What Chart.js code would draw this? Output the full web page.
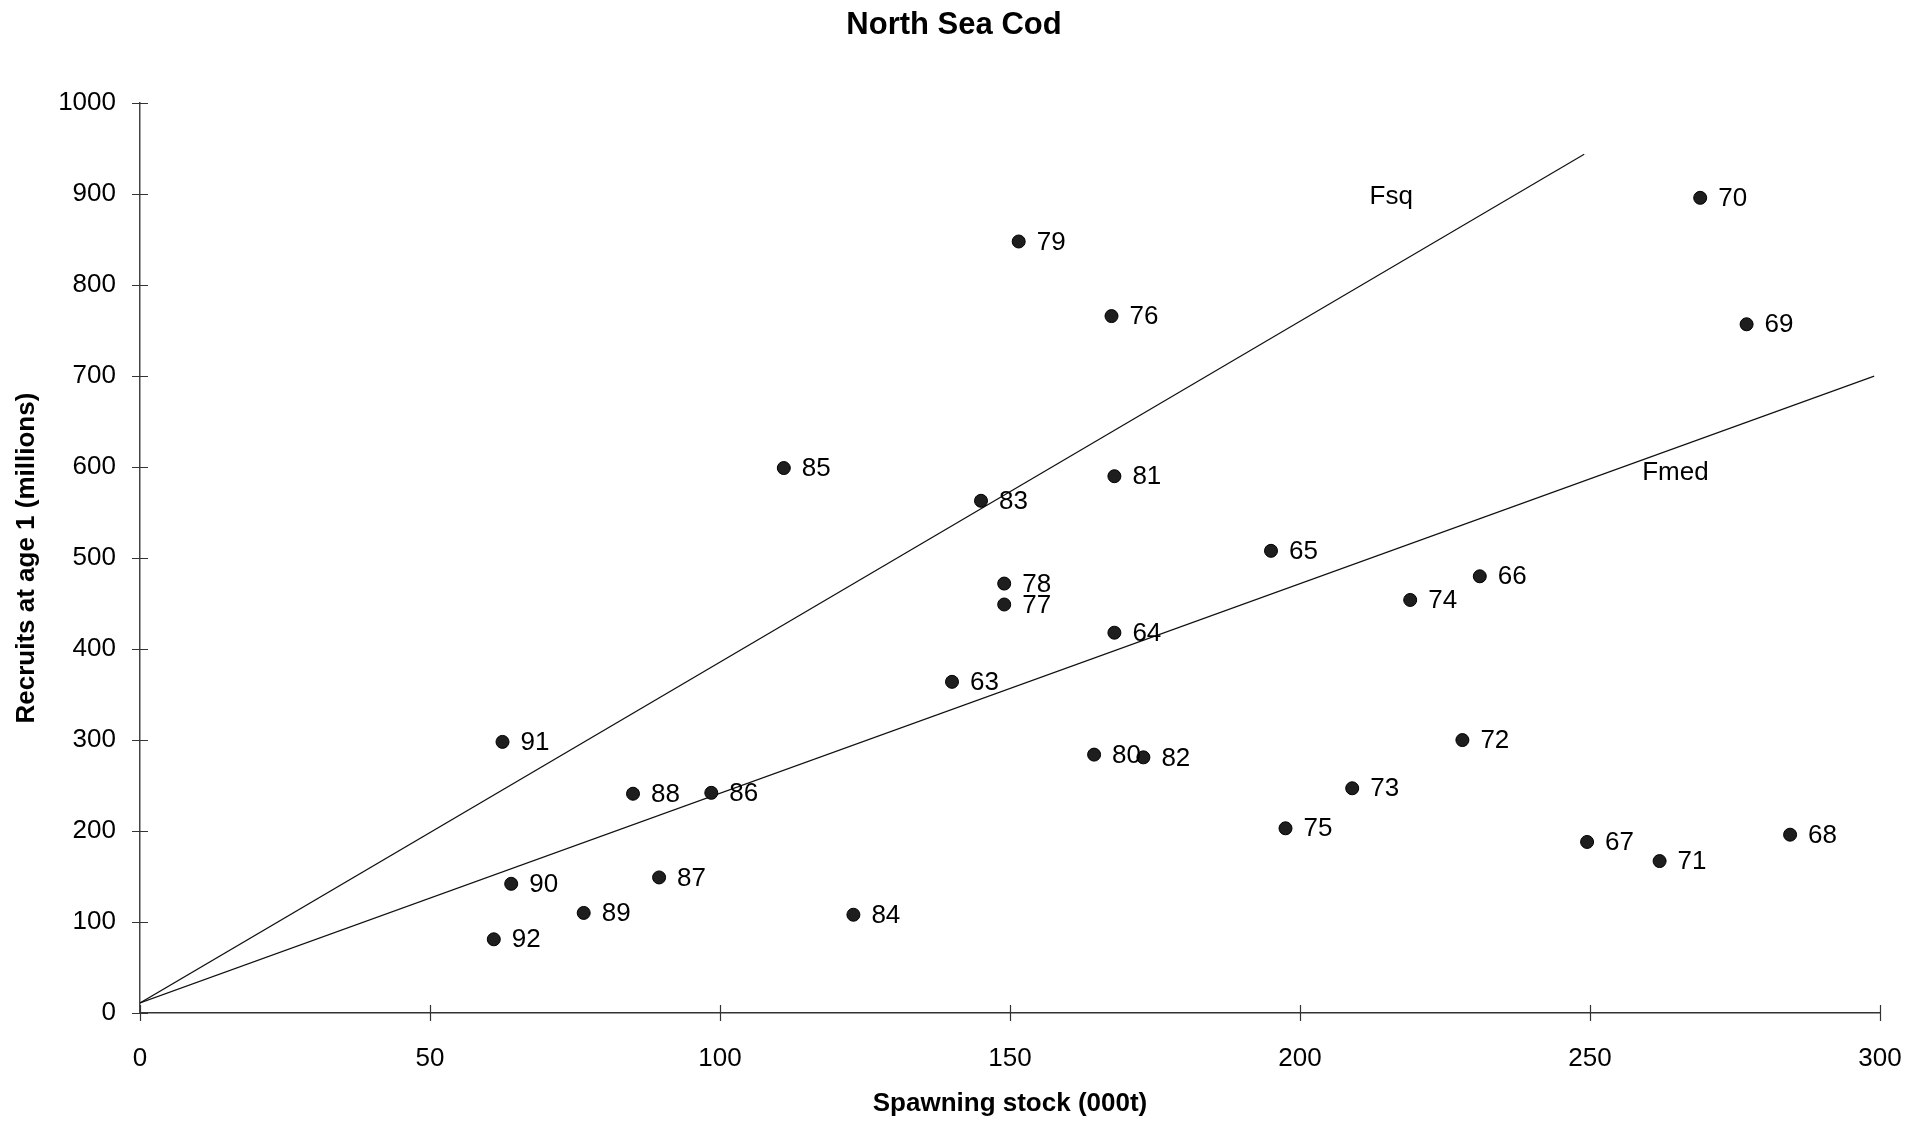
<!DOCTYPE html>
<html>
<head>
<meta charset="utf-8">
<title>North Sea Cod</title>
<script src="https://cdn.jsdelivr.net/npm/chart.js@4/dist/chart.umd.min.js"></script>
<style>
  html, body { margin: 0; padding: 0; background: #fff; }
  #wrap { width: 1918px; height: 1124px; }
</style>
</head>
<body>
<div id="wrap"><canvas id="codChart" width="1918" height="1124"></canvas></div>
<script>
// year class labels, spawning stock (000t) and recruits (millions)
const years = ['63', '64', '65', '66', '67', '68', '69', '70', '71', '72', '73', '74', '75', '76', '77',
               '78', '79', '80', '81', '82', '83', '84', '85', '86', '87', '88', '89', '90', '91', '92'];
const ssb = [140, 168, 195, 231, 249.5, 284.5, 277, 269, 262, 228, 209, 219, 197.5, 167.5, 149,
             149, 151.5, 164.5, 168, 173, 145, 123, 111, 98.5, 89.5, 85, 76.5, 64, 62.5, 61];
const recruits = [364, 418, 508, 480, 188, 196, 757, 896, 167, 300, 247, 454, 203, 766, 449,
                  472, 848, 284, 590, 281, 563, 108, 599, 242, 149, 241, 110, 142, 298, 81];

// replacement lines (start and end points)
const fsqX = [0, 249];
const fsqY = [11, 944];
const fmedX = [0, 299];
const fmedY = [11, 700];

// line label positions (data units)
const lineLabels = [
    { text: 'Fsq', x: 212, y: 897 },
    { text: 'Fmed', x: 259, y: 594 }
];

const xTicks = [0, 50, 100, 150, 200, 250, 300];
const yTicks = [0, 100, 200, 300, 400, 500, 600, 700, 800, 900, 1000];

const FONT = "'Liberation Sans', Arial, sans-serif";

// ticks crossing the axis lines
const crossTicks = {
    id: 'crossTicks',
    afterDraw(chart) {
        const ctx = chart.ctx;
        const xs = chart.scales.x, ys = chart.scales.y;
        const area = chart.chartArea;
        ctx.save();
        ctx.strokeStyle = '#333';
        ctx.lineWidth = 1.2;
        ctx.beginPath();
        xTicks.forEach(v => {
            const px = Math.round(xs.getPixelForValue(v)) + 0.5;
            ctx.moveTo(px, area.bottom - 8);
            ctx.lineTo(px, area.bottom + 8);
        });
        yTicks.forEach(v => {
            const py = Math.round(ys.getPixelForValue(v)) + 0.5;
            ctx.moveTo(area.left - 8, py);
            ctx.lineTo(area.left + 8, py);
        });
        ctx.stroke();
        ctx.restore();
    }
};

// year labels beside points, and the Fsq / Fmed labels
const textLabels = {
    id: 'textLabels',
    afterDatasetsDraw(chart) {
        const ctx = chart.ctx;
        ctx.save();
        ctx.font = '26px ' + FONT;
        ctx.fillStyle = '#000';
        ctx.textAlign = 'left';
        ctx.textBaseline = 'middle';
        chart.getDatasetMeta(0).data.forEach((pt, i) => {
            ctx.fillText(years[i], pt.x + 18, pt.y + 1);
        });
        const xs = chart.scales.x, ys = chart.scales.y;
        lineLabels.forEach(l => {
            ctx.fillText(l.text, xs.getPixelForValue(l.x), ys.getPixelForValue(l.y));
        });
        ctx.restore();
    }
};

const ctx = document.getElementById('codChart').getContext('2d');
new Chart(ctx, {
    type: 'scatter',
    data: {
        datasets: [{
            label: 'Recruits',
            data: ssb.map((v, i) => ({ x: v, y: recruits[i] })),
            backgroundColor: '#1e1e1e',
            borderColor: '#000',
            borderWidth: 1,
            pointRadius: 6.5,
            order: 1
        }, {
            label: 'Fsq',
            data: fsqX.map((v, i) => ({ x: v, y: fsqY[i] })),
            showLine: true,
            borderColor: '#111',
            borderWidth: 1.2,
            pointRadius: 0,
            order: 2
        }, {
            label: 'Fmed',
            data: fmedX.map((v, i) => ({ x: v, y: fmedY[i] })),
            showLine: true,
            borderColor: '#111',
            borderWidth: 1.2,
            pointRadius: 0,
            order: 2
        }]
    },
    options: {
        responsive: false,
        animation: false,
        // left/right padding also centres the title where the original has it
        layout: { padding: { left: 28, right: 38, top: 0, bottom: 0 } },
        plugins: {
            legend: { display: false },
            tooltip: { enabled: false },
            title: {
                display: true,
                text: 'North Sea Cod',
                color: '#000',
                font: { family: FONT, size: 31, weight: 'bold', lineHeight: 1.2 },
                padding: { top: 6.5, bottom: 59.5 }
            }
        },
        scales: {
            x: {
                type: 'linear',
                min: 0,
                max: 300,
                afterBuildTicks: axis => { axis.ticks = xTicks.map(v => ({ value: v })); },
                afterFit: axis => { axis.height = 111; },
                grid: { display: false, drawTicks: true, tickLength: 30 },
                border: { display: true, color: '#333', width: 1.5 },
                ticks: {
                    color: '#000',
                    padding: 0,
                    maxRotation: 0,
                    font: { family: FONT, size: 26 },
                    callback: v => String(v)
                },
                title: {
                    display: true,
                    text: 'Spawning stock (000t)',
                    color: '#000',
                    font: { family: FONT, size: 26, weight: 'bold', lineHeight: 1.2 },
                    padding: { top: 0, bottom: 5 }
                }
            },
            y: {
                type: 'linear',
                min: 0,
                max: 1000,
                afterBuildTicks: axis => { axis.ticks = yTicks.map(v => ({ value: v })); },
                afterFit: axis => { axis.width = 112; },
                grid: { display: false, drawTicks: true, tickLength: 24 },
                border: { display: true, color: '#444', width: 1.5 },
                ticks: {
                    color: '#000',
                    padding: 0,
                    font: { family: FONT, size: 26 },
                    callback: v => String(v)
                },
                title: {
                    display: true,
                    text: 'Recruits at age 1 (millions)',
                    color: '#000',
                    font: { family: FONT, size: 26, weight: 'bold', lineHeight: 1.2 },
                    padding: { top: -16.6, bottom: 0 }
                }
            }
        }
    },
    plugins: [crossTicks, textLabels]
});
</script>
</body>
</html>
